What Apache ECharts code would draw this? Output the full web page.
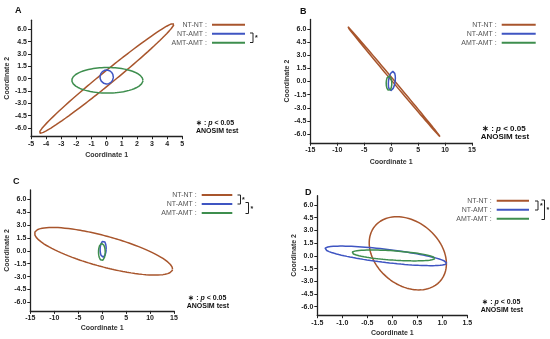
<!DOCTYPE html>
<html><head><meta charset="utf-8">
<script src="https://cdn.jsdelivr.net/npm/echarts@6/dist/echarts.min.js"></script>
<style>html,body{margin:0;padding:0;background:#fff}#c{width:550px;height:339px}</style>
</head><body><div id="c"></div>
<script>
// ---- data ----
const panelLabels = ['A', 'B', 'C', 'D'];
const groupNames = ['NT-NT', 'NT-AMT', 'AMT-AMT'];
const groupColors = ['#A8552C', '#3F55C2', '#3E8E4E'];
const yTickValues = [-6, -4.5, -3, -1.5, 0, 1.5, 3, 4.5, 6];
const xMin = [-5, -15, -15, -1.5];
const xMax = [5, 15, 15, 1.5];
const xStep = [1, 5, 5, 0.5];
const xDecimals = [0, 0, 0, 1];
const yMin = -7, yMax = 7.1;

// ellipses: centre, first conjugate semi-axis u, second conjugate semi-axis v (data units)
const ntntCenter = [[0, 0.03], [0.37, 0.08], [0.3, -0.05], [0.31, 0.3]];
const ntntU = [[4.45, 6.61], [8.7, -6.38], [14.4, -2.07], [-0.22, 4.32]];
const ntntV = [[0, 1.0], [0, 0.18], [0, 1.85], [0.74, 0]];
const ntamtCenter = [[0, 0.2], [0.13, 0.06], [0.21, 0.2], [-0.13, 0.0]];
const ntamtU = [[0.44, 0], [0.62, 0], [0.63, 0], [1.22, -0.85]];
const ntamtV = [[0, 0.85], [0.2, 1.1], [0.05, 0.95], [0, 0.78]];
const amtamtCenter = [[0.05, -0.2], [-0.4, -0.2], [-0.06, -0.14], [0.02, 0.05]];
const amtamtU = [[2.35, 0], [0.52, 0], [0.7, 0], [0.83, -0.33]];
const amtamtV = [[0, 1.55], [0, 0.84], [0, 1.0], [0, 0.55]];

const pText1 = ['∗ : ', 'p', ' < 0.05'];
const pText2 = 'ANOSIM test';

// ---- layout ----
const FONT = '"Liberation Sans", Arial, sans-serif';
const grids = [
  {left: 31, top: 20.25, width: 151.3, height: 116},
  {left: 310.3, top: 19.4, width: 161.7, height: 123.35},
  {left: 30.3, top: 189.9, width: 143.7, height: 121},
  {left: 317.3, top: 195.7, width: 150, height: 119.5}
];
const xNameGap = [15, 16, 14, 14];
const yNameGap = [20.5, 20, 19.3, 18.5];
const legendPos = [
  {right: 305, top: 20.2, w: 33},
  {right: 14.3, top: 20.2, w: 34},
  {right: 317.7, top: 190.5, w: 30.6},
  {right: 21, top: 196.2, w: 32.3}
];
const labelPos = [[15, 6.5], [300, 7], [13, 177.5], [305, 188]];
const pPos = [[196, 123.3, 196, 131.3, 7], [482, 128.3, 480.7, 137, 8], [188.3, 297.7, 186.7, 306, 7], [482.3, 302.3, 480.7, 310, 7]];

const groupCenters = [ntntCenter, ntamtCenter, amtamtCenter];
const groupU = [ntntU, ntamtU, amtamtU];
const groupV = [ntntV, ntamtV, amtamtV];

function ellipsePoints(c, u, v) {
  const N = 200, pts = [];
  for (let k = 0; k <= N; k++) {
    const t = 2 * Math.PI * k / N;
    pts.push([c[0] + u[0] * Math.cos(t) + v[0] * Math.sin(t),
              c[1] + u[1] * Math.cos(t) + v[1] * Math.sin(t)]);
  }
  return pts;
}

const axisCommon = {
  axisLine: {onZero: false, lineStyle: {color: '#222', width: 1.3}},
  axisTick: {length: 3, lineStyle: {color: '#222', width: 1}},
  splitLine: {show: false},
  nameLocation: 'middle',
  nameTextStyle: {fontSize: 7, fontWeight: 'bold', color: '#333', fontFamily: FONT}
};

const xAxes = [], yAxes = [], series = [], legends = [], graphics = [];
for (let i = 0; i < 4; i++) {
  xAxes.push(Object.assign({}, axisCommon, {
    gridIndex: i, type: 'value', min: xMin[i], max: xMax[i], interval: xStep[i],
    name: 'Coordinate 1', nameGap: xNameGap[i],
    axisLabel: {fontSize: 7, fontWeight: 'bold', color: '#222', margin: 4, fontFamily: FONT,
      formatter: v => v.toFixed(xDecimals[i])}
  }));
  yAxes.push(Object.assign({}, axisCommon, {
    gridIndex: i, type: 'value', min: yMin, max: yMax,
    name: 'Coordinate 2', nameGap: yNameGap[i],
    axisTick: {length: 3, lineStyle: {color: '#222', width: 1}, customValues: yTickValues},
    axisLabel: {fontSize: 7, fontWeight: 'bold', color: '#222', margin: 4, fontFamily: FONT,
      customValues: yTickValues, formatter: v => v.toFixed(1)}
  }));
  for (let g = 0; g < 3; g++) {
    series.push({
      type: 'line', name: groupNames[g], xAxisIndex: i, yAxisIndex: i,
      data: ellipsePoints(groupCenters[g][i], groupU[g][i], groupV[g][i]),
      symbol: 'none', showSymbol: false, smooth: false, clip: false,
      color: groupColors[g],
      lineStyle: {color: groupColors[g], width: 1.5},
      itemStyle: {color: groupColors[g]}
    });
  }
  legends.push({
    orient: 'vertical', align: 'right', right: legendPos[i].right, top: legendPos[i].top,
    padding: 0, itemGap: 0, itemWidth: legendPos[i].w, itemHeight: 2, icon: 'rect',
    selectedMode: false, data: groupNames,
    formatter: n => n + ' :',
    textStyle: {fontSize: 7, color: '#555', lineHeight: 9, fontFamily: FONT}
  });
  graphics.push({type: 'text', left: labelPos[i][0], top: labelPos[i][1],
    style: {text: panelLabels[i], font: 'bold 9px ' + FONT, fill: '#111'}});
  const p = pPos[i];
  graphics.push({type: 'text', x: p[0], y: p[1],
    style: {text: '{b|' + pText1[0] + '}{i|' + pText1[1] + '}{b|' + pText1[2] + '}',
      verticalAlign: 'middle',
      rich: {b: {font: 'bold ' + p[4] + 'px ' + FONT, fill: '#111'},
             i: {font: 'italic bold ' + p[4] + 'px ' + FONT, fill: '#111'}}}});
  graphics.push({type: 'text', x: p[2], y: p[3],
    style: {text: pText2, verticalAlign: 'middle', font: 'bold ' + p[4] + 'px ' + FONT, fill: '#111'}});
}

// significance brackets
function bracket(x, y1, y2, sx, sy) {
  graphics.push({type: 'polyline', shape: {points: [[x, y1], [x + 3, y1], [x + 3, y2], [x, y2]]},
    style: {stroke: '#222', lineWidth: 1, fill: null}});
  graphics.push({type: 'text', x: sx, y: sy,
    style: {text: '*', font: 'bold 7px ' + FONT, fill: '#222', verticalAlign: 'middle'}});
}
bracket(250, 33, 42.5, 255, 38.5);
bracket(237.5, 195, 204, 242, 200.5);
bracket(245.5, 202.5, 213.5, 250.5, 209.5);
bracket(535, 201, 210, 540, 206.5);
bracket(541.5, 200, 219.5, 546.5, 210.5);

const chart = echarts.init(document.getElementById('c'), null, {renderer: 'canvas'});
chart.setOption({
  animation: false,
  backgroundColor: '#fff',
  grid: grids,
  xAxis: xAxes,
  yAxis: yAxes,
  legend: legends,
  series: series,
  graphic: graphics
});
</script>
</body></html>
